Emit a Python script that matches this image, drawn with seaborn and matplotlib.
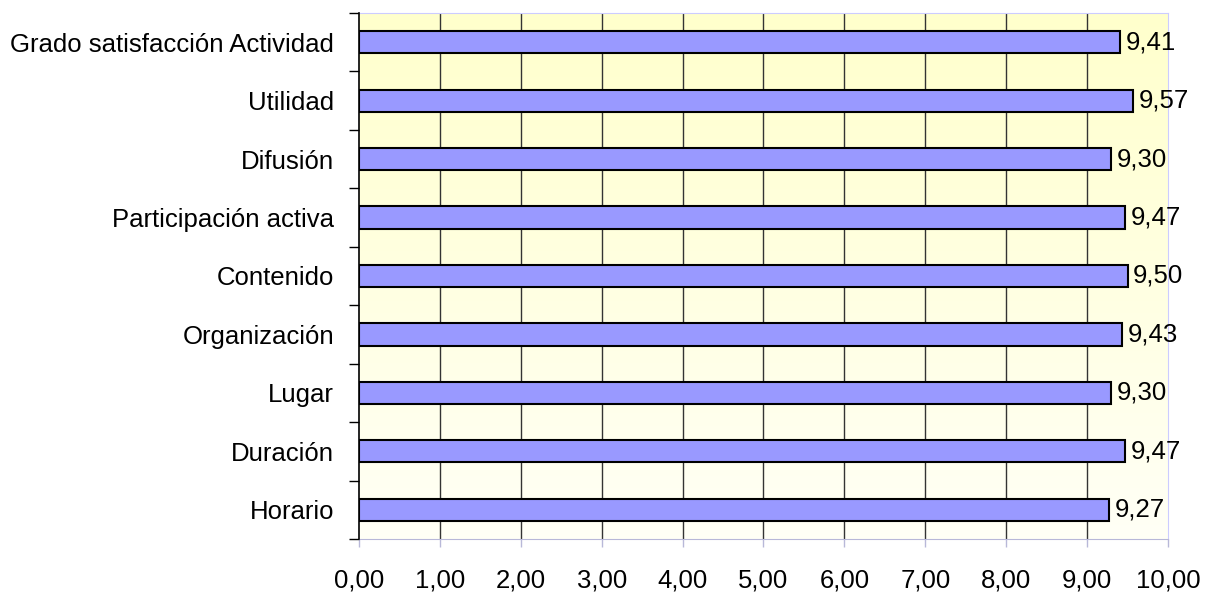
import numpy as np
import pandas as pd
import matplotlib
matplotlib.use("Agg")
import matplotlib.pyplot as plt
import seaborn as sns
from matplotlib.colors import LinearSegmentedColormap

categories = ["Grado satisfacción Actividad", "Utilidad", "Difusión",
              "Participación activa", "Contenido", "Organización",
              "Lugar", "Duración", "Horario"]
values = [9.41, 9.57, 9.30, 9.47, 9.50, 9.43, 9.30, 9.47, 9.27]
x_ticks = [0, 1, 2, 3, 4, 5, 6, 7, 8, 9, 10]
x_tick_labels = ["0,00", "1,00", "2,00", "3,00", "4,00", "5,00",
                 "6,00", "7,00", "8,00", "9,00", "10,00"]

df = pd.DataFrame({"cat": categories, "val": values})

sns.set_style("white")
plt.rcParams['font.family'] = ['Liberation Sans', 'DejaVu Sans']
FS = 18.5

fig = plt.figure(figsize=(12.05, 5.94), dpi=100)
ax = fig.add_axes([359/1205, 55/594, 809/1205, 526/594])

# gradient background
cmap = LinearSegmentedColormap.from_list("bg", ["#FFFFF6", "#FFFFCC"])
grad = np.linspace(0, 1, 256).reshape(-1, 1)
ax.imshow(grad, extent=[0, 1, 0, 1], transform=ax.transAxes, cmap=cmap,
          aspect="auto", origin="lower", zorder=0)

sns.barplot(data=df, x="val", y="cat", orient="h", color="#9999FF",
            saturation=1, width=0.38, edgecolor="black", linewidth=1.5,
            ax=ax, zorder=3)

ax.set_xlim(0, 10)
ax.set_ylim(len(categories) - 0.5, -0.5)

for x in x_ticks[1:-1]:
    ax.axvline(x, color="#333333", linewidth=1, zorder=1)

for i, v in enumerate(values):
    ax.text(v + 0.07, i, f"{v:.2f}".replace(".", ","), va="center",
            ha="left", fontsize=FS, color="black", zorder=4)

ax.set_xticks(x_ticks)
ax.set_xticklabels(x_tick_labels, fontsize=FS, color="black")
ax.tick_params(axis="x", bottom=True, length=6, width=1, color="#B8B8D8", pad=15)

ax.set_yticks(range(len(categories)))
ax.set_yticklabels(categories, fontsize=FS, color="black")
ax.tick_params(axis="y", which="major", left=True, length=0, pad=18)
ax.set_yticks(np.arange(-0.5, len(categories), 1), minor=True)
ax.tick_params(axis="y", which="minor", left=True, length=7, width=1, color="black")

ax.set_xlabel("")
ax.set_ylabel("")

ax.spines["left"].set_color("black")
ax.spines["left"].set_linewidth(1.2)
ax.spines["top"].set_color("#CCCCFF")
ax.spines["right"].set_color("#CCCCFF")
ax.spines["bottom"].set_color("#B8B8D8")
for s in ax.spines.values():
    s.set_visible(True)
ax.spines["left"].set_zorder(5)

fig.savefig("out.png", dpi=100)
